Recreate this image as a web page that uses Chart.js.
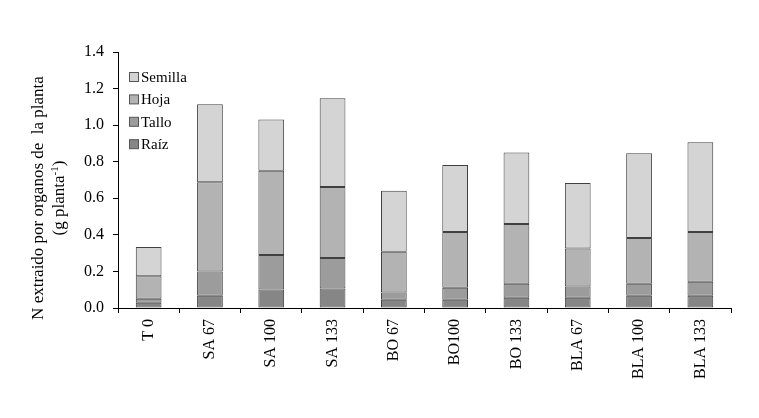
<!DOCTYPE html>
<html>
<head>
<meta charset="utf-8">
<script src="https://cdn.jsdelivr.net/npm/chart.js@4"></script>
<style>
  html, body { margin: 0; padding: 0; background: #fff; }
  #wrap { width: 759px; height: 418px; }
</style>
</head>
<body>
<div id="wrap"><canvas id="chart" width="759" height="418"></canvas></div>
<script>
// ----------------- Data -----------------
const categories = ["T 0", "SA 67", "SA 100", "SA 133", "BO 67", "BO100", "BO 133", "BLA 67", "BLA 100", "BLA 133"];
const raiz    = [0.029, 0.067, 0.101, 0.107, 0.045, 0.045, 0.056, 0.056, 0.067, 0.067];
const tallo   = [0.022, 0.132, 0.189, 0.167, 0.040, 0.066, 0.076, 0.062, 0.065, 0.076];
const hoja    = [0.123, 0.489, 0.460, 0.388, 0.222, 0.305, 0.327, 0.207, 0.251, 0.273];
const semilla = [0.160, 0.426, 0.281, 0.485, 0.334, 0.366, 0.392, 0.359, 0.463, 0.490];
const yMin = 0, yMax = 1.4, yStep = 0.2;

const FONT = "'Liberation Serif', 'Times New Roman', serif";

function makeSet(label, data, color) {
  return {
    label,
    data,
    backgroundColor: color,
    borderColor: "#404040",
    borderWidth: 1,
    borderSkipped: false,
    barPercentage: 0.42,
    categoryPercentage: 1.0,
  };
}

// ----------------- Plugins (legend + axis title) -----------------
const legendInside = {
  id: "legendInside",
  afterDraw(chart) {
    const ctx = chart.ctx;
    const items = chart.data.datasets.slice().reverse(); // Semilla on top
    ctx.save();
    ctx.font = "15px " + FONT;
    ctx.textBaseline = "middle";
    items.forEach((ds, i) => {
      const y = 77 + i * 22.4;
      ctx.fillStyle = ds.backgroundColor;
      ctx.fillRect(129.5, y - 4.5, 9, 9);
      ctx.strokeStyle = "#555";
      ctx.lineWidth = 1;
      ctx.strokeRect(129.5, y - 4.5, 9, 9);
      ctx.fillStyle = "#000";
      ctx.fillText(ds.label, 141, y + 1);
    });
    ctx.restore();
  },
};

const yTitle = {
  id: "yTitle",
  afterDraw(chart) {
    const ctx = chart.ctx;
    ctx.save();
    ctx.fillStyle = "#000";
    ctx.textBaseline = "middle";
    // line 1
    ctx.save();
    ctx.translate(39, 198);
    ctx.rotate(-Math.PI / 2);
    ctx.font = "17px " + FONT;
    ctx.textAlign = "center";
    ctx.fillText("N extraido por organos de  la planta", 0, 0);
    ctx.restore();
    // line 2 with superscript
    ctx.save();
    ctx.translate(60, 198);
    ctx.rotate(-Math.PI / 2);
    const big = "17px " + FONT, small = "11px " + FONT;
    const p1 = "(g planta", sup = "-1", p2 = ")";
    ctx.font = big;
    const w1 = ctx.measureText(p1).width, w3 = ctx.measureText(p2).width;
    ctx.font = small;
    const w2 = ctx.measureText(sup).width;
    let x = -(w1 + w2 + w3) / 2;
    ctx.textAlign = "left";
    ctx.font = big;
    ctx.fillText(p1, x, 0);
    x += w1;
    ctx.font = small;
    ctx.fillText(sup, x, -5);
    x += w2;
    ctx.font = big;
    ctx.fillText(p2, x, 0);
    ctx.restore();
    ctx.restore();
  },
};

// ----------------- Chart -----------------
new Chart(document.getElementById("chart").getContext("2d"), {
  type: "bar",
  data: {
    labels: categories,
    datasets: [
      makeSet("Raíz", raiz, "#868686"),
      makeSet("Tallo", tallo, "#9c9c9c"),
      makeSet("Hoja", hoja, "#b3b3b3"),
      makeSet("Semilla", semilla, "#d4d4d4"),
    ],
  },
  options: {
    responsive: false,
    animation: false,
    devicePixelRatio: 1,
    layout: { padding: { left: 0, right: 28, top: 52, bottom: 0 } },
    plugins: {
      legend: { display: false },
      tooltip: { enabled: false },
    },
    scales: {
      x: {
        stacked: true,
        grid: {
          offset: true,
          drawOnChartArea: false,
          drawTicks: true,
          tickLength: 5,
          color: "#000",
        },
        border: { display: true, color: "#000", width: 1 },
        ticks: {
          color: "#000",
          font: { family: FONT, size: 16 },
          minRotation: 90,
          maxRotation: 90,
          padding: 6,
          autoSkip: false,
        },
        afterFit(scale) { scale.height = 110; },
      },
      y: {
        stacked: true,
        min: yMin,
        max: yMax,
        grid: {
          drawOnChartArea: false,
          drawTicks: true,
          tickLength: 5,
          color: "#000",
        },
        border: { display: true, color: "#000", width: 1 },
        ticks: {
          stepSize: yStep,
          color: "#000",
          font: { family: FONT, size: 16 },
          padding: 9,
          callback: (v) => Number(v).toFixed(1),
        },
        afterFit(scale) { scale.width = 118; },
      },
    },
  },
  plugins: [legendInside, yTitle],
});
</script>
</body>
</html>
